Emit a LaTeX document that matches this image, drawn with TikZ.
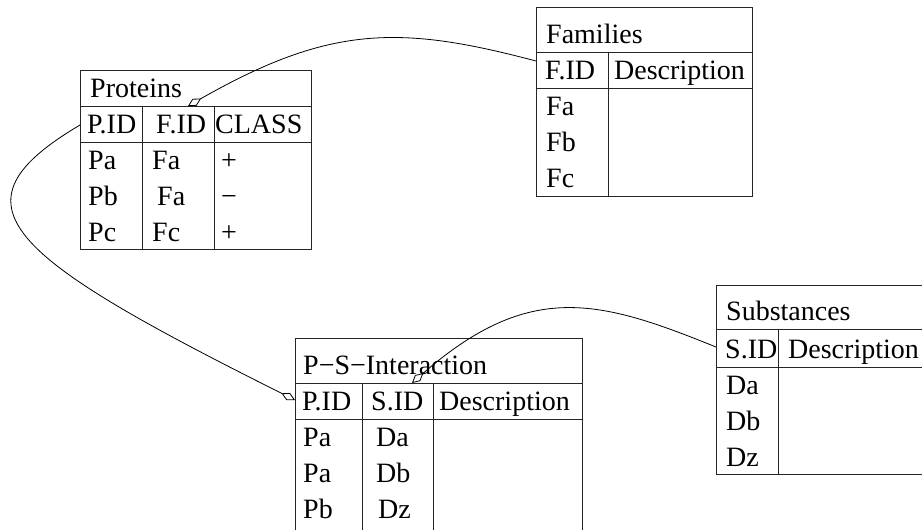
\documentclass[tikz,border=0pt]{standalone}
\usepackage{fontspec}
\setmainfont{Liberation Serif}
\usetikzlibrary{arrows.meta}
\begin{document}
\begin{tikzpicture}[x=1pt,y=-1pt,
  tline/.style={draw=black!85,line width=1pt},
  txt/.style={anchor=base west,inner sep=0pt,font=\fontsize{28}{33}\selectfont},
  link/.style={draw=black,line width=0.8pt,-{Diamond[open,length=15pt,width=8pt]}}]
\useasboundingbox (0,0) rectangle (922,530);
\clip (0,0) rectangle (922,530);
% ---------- Proteins ----------
\draw[tline] (80,70) rectangle (311,249);
\draw[tline] (80,106) -- (311,106) (80,142) -- (311,142);
\draw[tline] (142.5,106) -- (142.5,249) (214,106) -- (214,249);
\node[txt] (pt) at (90,97) {Proteins};
\node[txt] (ph1) at (87,133) {P.ID};
\node[txt] (ph2) at (156,133) {F.ID};
\node[txt] (ph3) at (215,133) {CLASS};
\node[txt] (p11) at (88,169) {Pa};
\node[txt] (p12) at (152,169) {Fa};
\node[txt] (p13) at (221,169) {+};
\node[txt] (p21) at (88,205) {Pb};
\node[txt] (p22) at (157,205) {Fa};
\node[txt] (p23) at (221,205) {−};
\node[txt] (p31) at (88,241) {Pc};
\node[txt] (p32) at (152,241) {Fc};
\node[txt] (p33) at (221,241) {+};
% ---------- Families ----------
\draw[tline] (536,7) rectangle (752,196);
\draw[tline] (536,52) -- (752,52) (536,88) -- (752,88);
\draw[tline] (608,52) -- (608,196);
\node[txt] (ft) at (546,43) {Families};
\node[txt] (fh1) at (545,79) {F.ID};
\node[txt] (fh2) at (614,79) {Description};
\node[txt] (f1) at (546,115) {Fa};
\node[txt] (f2) at (546,151) {Fb};
\node[txt] (f3) at (546,187) {Fc};
% ---------- P-S-Interaction ----------
\draw[tline] (295,540) -- (295,338) -- (582,338) -- (582,540);
\draw[tline] (295,383) -- (582,383) (295,419) -- (582,419);
\draw[tline] (362,383) -- (362,540) (433,383) -- (433,540);
\node[txt] (it) at (303,374) {P−S−Interaction};
\node[txt] (ih1) at (302,410) {P.ID};
\node[txt] (ih2) at (371,410) {S.ID};
\node[txt] (ih3) at (439,410) {Description};
\node[txt] (i11) at (303,446) {Pa};
\node[txt] (i12) at (376,446) {Da};
\node[txt] (i21) at (303,482) {Pa};
\node[txt] (i22) at (376,482) {Db};
\node[txt] (i31) at (303,518) {Pb};
\node[txt] (i32) at (378,518) {Dz};
% ---------- Substances ----------
\draw[tline] (940,285) -- (716,285) -- (716,474) -- (940,474);
\draw[tline] (716,329) -- (940,329) (716,367) -- (940,367);
\draw[tline] (778,329) -- (778,474);
\node[txt] (st) at (726,320) {Substances};
\node[txt] (sh1) at (725,358) {S.ID};
\node[txt] (sh2) at (788,358) {Description};
\node[txt] (s1) at (726,394) {Da};
\node[txt] (s2) at (726,430) {Db};
\node[txt] (s3) at (726,466) {Dz};
% ---------- connector ends ----------
\coordinate (famA) at (536,61);
\coordinate (protA) at (188,106);
\coordinate (protB) at (80,125);
\coordinate (psiB) at (295,400);
\coordinate (subC) at (716,347);
\coordinate (psiC) at (412,383);
\draw[link] (famA) .. controls (400,25) and (330,25) .. (protA);
\draw[link] (protB) .. controls (-55,205) and (5,255) .. (psiB);
\draw[link] (subC) .. controls (600,300) and (530,280) .. (psiC);
\end{tikzpicture}
\end{document}
